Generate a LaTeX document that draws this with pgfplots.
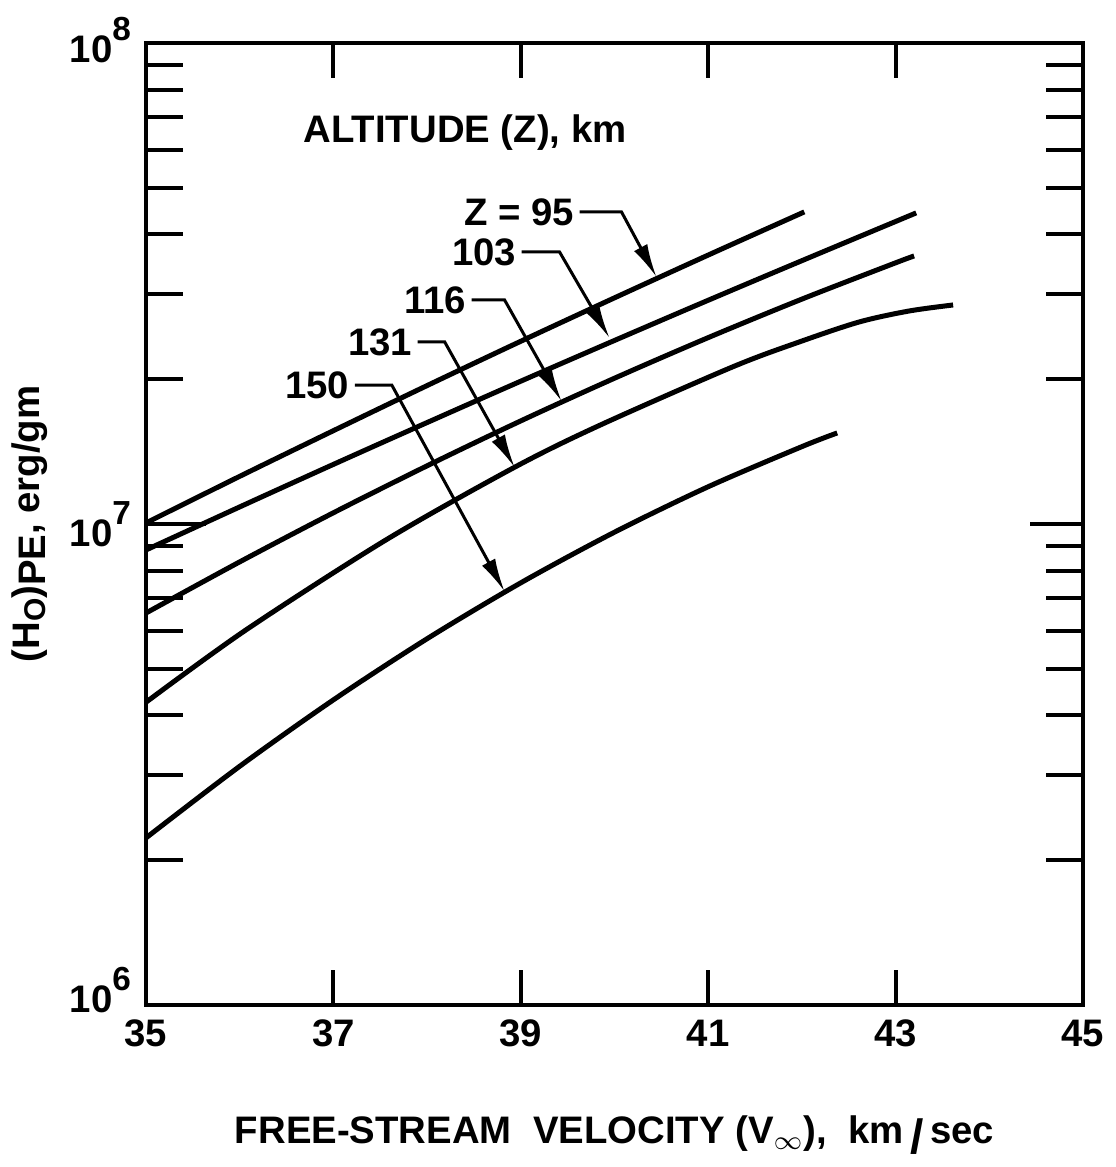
\documentclass[border=0pt]{standalone}
\usepackage{fontspec}
\setmainfont{Liberation Sans}
\usepackage{pgfplots}
\pgfplotsset{compat=1.18}
\usetikzlibrary{arrows.meta}

\newcommand{\lab}{\bfseries\fontsize{11.5}{13}\selectfont}
\newcommand{\tenp}[1]{10\raisebox{1.1ex}{\fontsize{10}{10}\selectfont #1}}

\begin{document}
\begin{tikzpicture}
\begin{axis}[
    scale only axis,
    width=281.1pt, height=288.6pt,
    ymode=log,
    xmin=35, xmax=45, ymin=1e6, ymax=1e8,
    xtick={35,37,39,41,43,45},
    xticklabels={35,37,39,41,43,45},
    ytick={1e6,1e7,1e8},
    yticklabels={\raisebox{9pt}{\tenp{6}},\tenp{7},\raisebox{2pt}{\tenp{8}}},
    tick pos=both, tick align=inside,
    major tick length=10.5pt, minor tick length=11pt,
    axis line style={line width=1.3pt},
    every tick/.style={black, line width=1.2pt},
    tick label style={font=\lab},
    xticklabel style={yshift=-1pt},
    yticklabel style={xshift=-1pt},
    every axis x label/.style={at={(rel axis cs:0.5,0)}, anchor=center, yshift=-39pt, font=\lab},
    every axis y label/.style={at={(rel axis cs:0,0.5)}, xshift=-34.8pt, rotate=90, anchor=center, font=\lab},
    xlabel={FREE-STREAM\ \ VELOCITY (V\textsubscript{$\infty$}),\ \ km\,\raisebox{-0.5ex}{\Large/}\,sec},
    ylabel={(H\raisebox{-0.3ex}{\fontsize{9}{9}\selectfont O})\raisebox{-0.3ex}{PE}, erg/gm},
    every axis plot/.append style={line width=1.5pt, no markers, smooth},
]
% Z = 95
\addplot[black] coordinates {(35,1.005e7) (36,1.256e7) (37,1.563e7) (38,1.940e7)
  (39,2.398e7) (40,2.952e7) (41,3.623e7) (42.026,4.454e7)};
% Z = 103
\addplot[black] coordinates {(35,8.83e6) (36,1.085e7) (37,1.330e7) (38,1.625e7)
  (39,1.981e7) (40,2.407e7) (41,2.918e7) (42,3.527e7) (43.22,4.433e7)};
% Z = 116
\addplot[black] coordinates {(35,6.53e6) (36,8.34e6) (37,1.055e7) (38,1.321e7)
  (39,1.638e7) (40,2.009e7) (41,2.440e7) (42,2.934e7) (43,3.491e7) (43.198,3.607e7)};
% Z = 131
\addplot[black] coordinates {(35,4.26e6) (36.066,6.02e6) (37.559,9.26e6) (38.934,1.312e7)
  (39.84,1.603e7) (41.258,2.120e7) (41.972,2.390e7) (42.612,2.630e7) (43.145,2.772e7) (43.614,2.853e7)};
% Z = 150
\addplot[black] coordinates {(35,2.225e6) (36,3.135e6) (37,4.308e6) (38,5.773e6)
  (39,7.545e6) (40,9.614e6) (41,1.195e7) (42,1.448e7) (42.377,1.546e7)};

% longer ticks at 10^7
\draw[line width=1.2pt] (axis cs:35,1e7) -- ++(18pt,0pt);
\draw[line width=1.2pt] (axis cs:45,1e7) -- ++(-16pt,0pt);

\node[font=\lab, anchor=west] at (axis cs:36.556,6.5e7) {ALTITUDE (Z), km};

% curve labels with leaders
\tikzset{lead/.style={line width=0.9pt, -{Latex[length=10pt,width=4.5pt]}}}
\node[font=\lab, anchor=east, inner sep=1.5pt] at (axis cs:39.627,4.454e7) {Z = 95};
\draw[lead] (axis cs:39.627,4.454e7) -- (axis cs:40.075,4.454e7) -- (axis cs:40.448,3.262e7);
\node[font=\lab, anchor=east, inner sep=1.5pt] at (axis cs:39.009,3.677e7) {103};
\draw[lead] (axis cs:39.009,3.677e7) -- (axis cs:39.414,3.677e7) -- (axis cs:39.947,2.436e7);
\node[font=\lab, anchor=east, inner sep=1.5pt] at (axis cs:38.475,2.922e7) {116};
\draw[lead] (axis cs:38.475,2.922e7) -- (axis cs:38.827,2.922e7) -- (axis cs:39.435,1.80e7);
\node[font=\lab, anchor=east, inner sep=1.5pt] at (axis cs:37.900,2.390e7) {131};
\draw[lead] (axis cs:37.900,2.390e7) -- (axis cs:38.188,2.390e7) -- (axis cs:38.934,1.312e7);
\node[font=\lab, anchor=east, inner sep=1.5pt] at (axis cs:37.228,1.945e7) {150};
\draw[lead] (axis cs:37.228,1.945e7) -- (axis cs:37.623,1.945e7) -- (axis cs:38.827,7.24e6);

\coordinate (sw) at (rel axis cs:0,0);
\coordinate (ne) at (rel axis cs:1,1);
\end{axis}
\path ([shift={(-43.8pt,-48.6pt)}]sw) rectangle ([shift={(9.6pt,12.9pt)}]ne);
\end{tikzpicture}
\end{document}
